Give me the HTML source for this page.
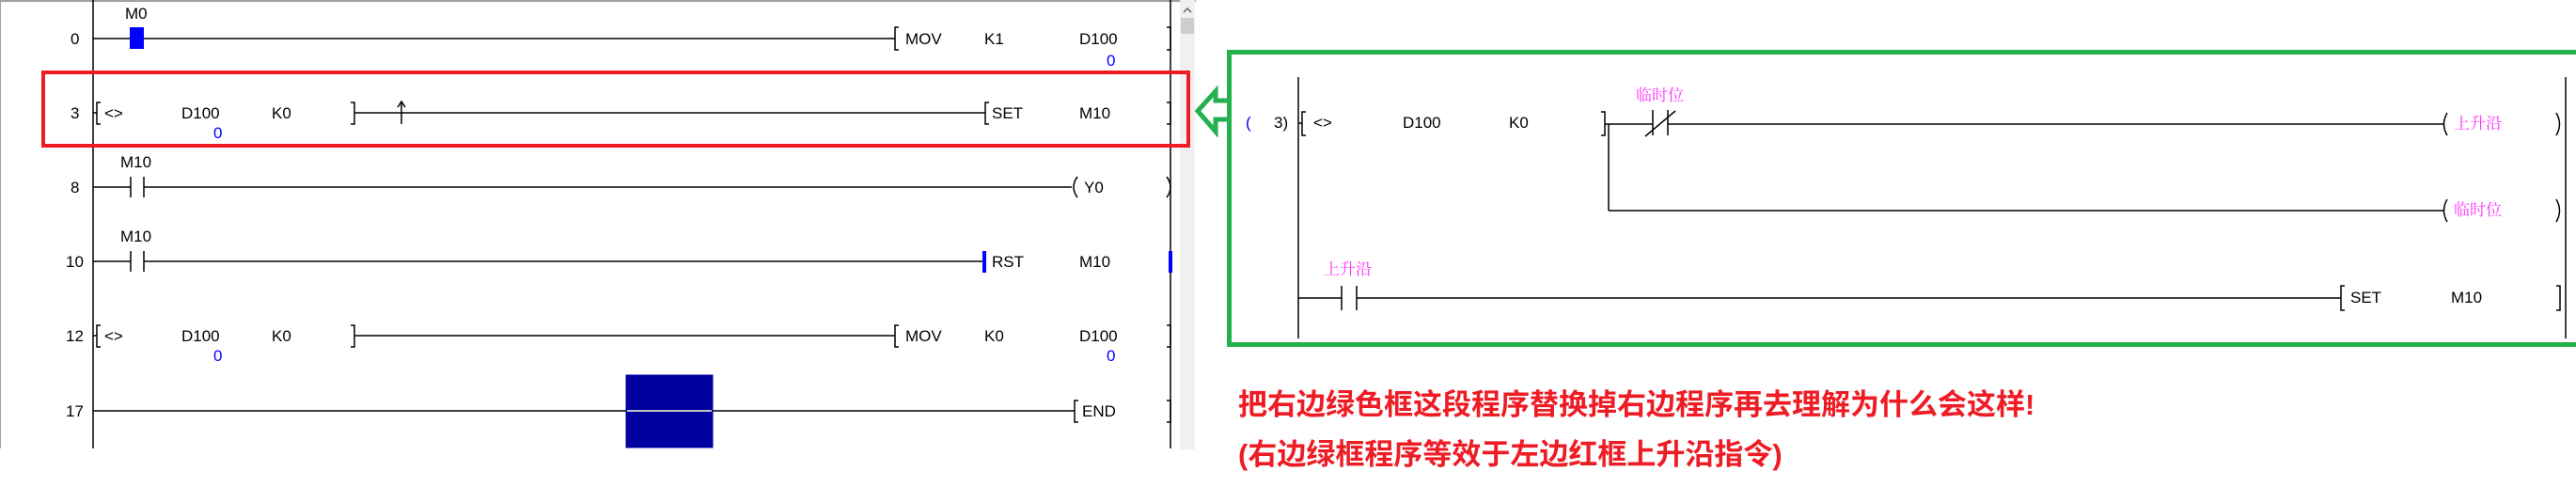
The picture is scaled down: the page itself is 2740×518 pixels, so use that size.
<!DOCTYPE html>
<html><head><meta charset="utf-8"><style>
html,body{margin:0;padding:0;background:#fff;width:2740px;height:518px;overflow:hidden}
svg{display:block}
text{font-family:"Liberation Sans","Noto Sans CJK SC",sans-serif;font-size:17px;fill:#000}
.b{fill:#0000ff}
.m{fill:#ff33ff;font-family:"Noto Serif CJK SC","Liberation Serif",serif;font-size:17px}
.r{fill:#ee1c25;font-family:"Liberation Sans","Noto Sans CJK SC",sans-serif;font-size:31px;font-weight:bold}
</style></head><body>
<svg width="2740" height="518" viewBox="0 0 2740 518" xmlns="http://www.w3.org/2000/svg">
<!-- left panel frame -->
<rect x="0" y="0" width="1272" height="2" fill="#a0a0a0"/>
<rect x="0" y="0" width="1" height="477" fill="#a0a0a0"/>
<rect x="1255" y="0" width="16" height="478" fill="#f0f0f0"/>
<rect x="1256" y="19" width="14" height="17" fill="#cdcdcd"/>
<path d="M1259 13 L1263 9 L1267 13" stroke="#606060" stroke-width="1.5" fill="none"/>
<g stroke="#000" stroke-width="1.5" fill="none">
<line x1="99" y1="0" x2="99" y2="477"/>
<line x1="1245" y1="0" x2="1245" y2="477"/>
<!-- row 0 -->
<line x1="99" y1="41" x2="952" y2="41"/>
<path d="M956 29 H952 V53 H956"/><path d="M1241 29 H1245 V53 H1241"/>
<!-- row 3 -->
<line x1="99" y1="120" x2="103" y2="120"/>
<path d="M107 109 H103 V132 H107"/><path d="M373 109 H377 V132 H373"/>
<line x1="377" y1="120" x2="1048" y2="120"/>
<line x1="427" y1="108" x2="427" y2="132"/><path d="M423 114 L427 108 L431 114"/>
<path d="M1052 109 H1048 V132 H1052"/><path d="M1241 109 H1245 V132 H1241"/>
<!-- row 8 -->
<line x1="99" y1="199" x2="139" y2="199"/>
<line x1="139" y1="188" x2="139" y2="210"/><line x1="153" y1="188" x2="153" y2="210"/>
<line x1="153" y1="199" x2="1140" y2="199"/>
<path d="M1146 188 Q1138 199 1146 210"/><path d="M1241 188 Q1249 199 1241 210"/>
<!-- row 10 -->
<line x1="99" y1="278" x2="139" y2="278"/>
<line x1="139" y1="267" x2="139" y2="289"/><line x1="153" y1="267" x2="153" y2="289"/>
<line x1="153" y1="278" x2="1046" y2="278"/>
<!-- row 12 -->
<line x1="99" y1="357" x2="103" y2="357"/>
<path d="M107 346 H103 V369 H107"/><path d="M373 346 H377 V369 H373"/>
<line x1="377" y1="357" x2="952" y2="357"/>
<path d="M956 346 H952 V369 H956"/><path d="M1241 346 H1245 V369 H1241"/>
<!-- row 17 -->
<line x1="99" y1="437" x2="1143" y2="437"/>
<path d="M1147 426 H1143 V449 H1147"/><path d="M1241 426 H1245 V449 H1241"/>
</g>
<rect x="138" y="29" width="15" height="23" fill="#0000ff"/>
<rect x="1045" y="267" width="4" height="23" fill="#0000ff"/>
<rect x="1243" y="267" width="4" height="23" fill="#0000ff"/>
<rect x="666" y="399" width="92" height="77" fill="#0000a0" stroke="#fff" stroke-width="1"/>
<rect x="666" y="399" width="92" height="77" fill="none" stroke="#0000a0" stroke-width="1" transform="translate(0,0)"/>
<line x1="667" y1="437" x2="757" y2="437" stroke="#ffffcc" stroke-width="1.5"/>
<!-- left texts -->
<text x="75" y="47">0</text><text x="133" y="20">M0</text>
<text x="963" y="47">MOV</text><text x="1047" y="47">K1</text><text x="1148" y="47">D100</text>
<text class="b" x="1177" y="70">0</text>
<text x="75" y="126">3</text><text x="111" y="126">&lt;&gt;</text><text x="193" y="126">D100</text><text x="289" y="126">K0</text>
<text class="b" x="227" y="147">0</text>
<text x="1055" y="126">SET</text><text x="1148" y="126">M10</text>
<text x="75" y="205">8</text><text x="128" y="178">M10</text><text x="1153" y="205">Y0</text>
<text x="70" y="284">10</text><text x="128" y="257">M10</text><text x="1055" y="284">RST</text><text x="1148" y="284">M10</text>
<text x="70" y="363">12</text><text x="111" y="363">&lt;&gt;</text><text x="193" y="363">D100</text><text x="289" y="363">K0</text>
<text class="b" x="227" y="384">0</text>
<text x="963" y="363">MOV</text><text x="1047" y="363">K0</text><text x="1148" y="363">D100</text>
<text class="b" x="1177" y="384">0</text>
<text x="70" y="443">17</text><text x="1151" y="443">END</text>
<!-- red box -->
<rect x="46" y="77" width="1218" height="78" fill="none" stroke="#ee1c25" stroke-width="4"/>
<!-- green arrow -->
<path d="M1305 107 H1293 V97 L1274 118 L1293 140 V127 H1305" fill="none" stroke="#22b14c" stroke-width="5" stroke-linejoin="miter"/>
<!-- green box -->
<rect x="1307.5" y="55.5" width="1440" height="311" fill="none" stroke="#22b14c" stroke-width="5"/>
<g stroke="#000" stroke-width="1.5" fill="none">
<line x1="1381" y1="82" x2="1381" y2="360"/>
<line x1="2729" y1="82" x2="2729" y2="360"/>
<path d="M1389 119 H1385 V144 H1389"/><path d="M1703 119 H1707 V144 H1703"/>
<line x1="1381" y1="131" x2="1385" y2="131"/>
<line x1="1707" y1="132" x2="1758" y2="132"/>
<line x1="1758" y1="117" x2="1758" y2="144"/><line x1="1774" y1="117" x2="1774" y2="144"/>
<line x1="1750" y1="145" x2="1782" y2="118"/>
<line x1="1774" y1="132" x2="2600" y2="132"/>
<path d="M2603 120 Q2596 132 2603 144"/><path d="M2719 120 Q2726 132 2719 144"/>
<line x1="1711" y1="132" x2="1711" y2="224"/>
<line x1="1711" y1="224" x2="2600" y2="224"/>
<path d="M2603 212 Q2596 224 2603 236"/><path d="M2719 212 Q2726 224 2719 236"/>
<line x1="1381" y1="317" x2="1427" y2="317"/>
<line x1="1427" y1="304" x2="1427" y2="330"/><line x1="1443" y1="304" x2="1443" y2="330"/>
<line x1="1443" y1="317" x2="2490" y2="317"/>
<path d="M2494 304 H2490 V330 H2494"/><path d="M2719 304 H2723 V330 H2719"/>
</g>
<text class="b" x="1325" y="136">(</text><text x="1355" y="136">3)</text>
<text x="1397" y="136">&lt;&gt;</text><text x="1492" y="136">D100</text><text x="1605" y="136">K0</text>
<text class="m" x="1740" y="107">临时位</text>
<text class="m" x="2610" y="137">上升沿</text>
<text class="m" x="2610" y="229">临时位</text>
<text class="m" x="1408" y="292">上升沿</text>
<text x="2500" y="322">SET</text><text x="2607" y="322">M10</text>
<!-- red notes -->
<text class="r" x="1317" y="441">把右边绿色框这段程序替换掉右边程序再去理解为什么会这样!</text>
<text class="r" x="1317" y="494">(右边绿框程序等效于左边红框上升沿指令)</text>
</svg>
</body></html>
